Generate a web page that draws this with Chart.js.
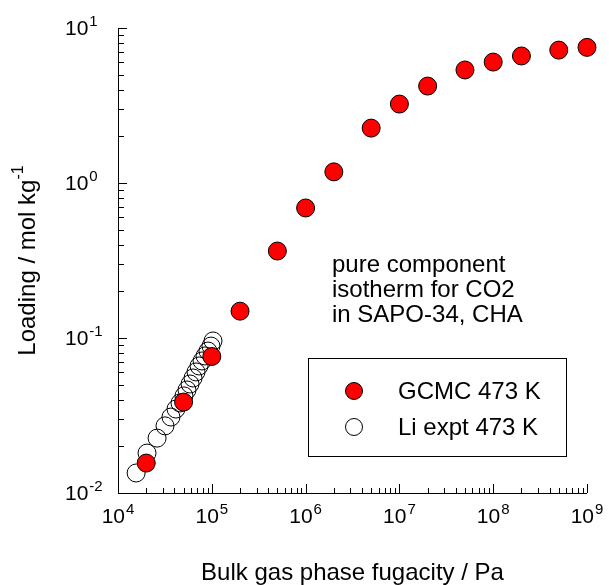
<!DOCTYPE html>
<html>
<head>
<meta charset="utf-8">
<title>CO2 isotherm, SAPO-34</title>
<script src="https://cdn.jsdelivr.net/npm/chart.js@4.4.1/dist/chart.umd.min.js"></script>
<style>
  html, body { margin: 0; padding: 0; background: #fff; }
  #wrap { width: 609px; height: 585px; }
</style>
</head>
<body>
<div id="wrap"><canvas id="iso" width="609" height="585"></canvas></div>
<script>
/* CO2 in SAPO-34 (CHA), 473 K — loading vs bulk fugacity */

// GCMC simulations
const gcmcF = [2e4, 5e4, 1e5, 2e5, 5e5, 1e6, 2e6, 5e6, 1e7, 2e7, 5e7, 1e8, 2e8, 5e8, 1e9];
const gcmcQ = [0.0156, 0.0386, 0.076, 0.149, 0.364, 0.69, 1.18, 2.26, 3.23, 4.22, 5.36, 6.03, 6.6, 7.2, 7.5];

// experimental isotherm (Li)
const exptF = [1.56e4, 2.04e4, 2.61e4, 3.17e4, 3.67e4, 4.15e4, 4.58e4, 5.05e4, 5.44e4,
               5.86e4, 6.31e4, 6.79e4, 7.31e4, 7.87e4, 8.47e4, 9.1e4, 9.8e4, 1.03e5];
const exptQ = [0.01346, 0.0181, 0.0226, 0.0271, 0.0309, 0.0348, 0.0381, 0.0423, 0.0462,
               0.0505, 0.0552, 0.0604, 0.066, 0.0711, 0.0766, 0.0824, 0.0887, 0.0957];

// axis decades (exponents of 10)
const xExp = [4, 5, 6, 7, 8, 9];
const yExp = [-2, -1, 0, 1];

const seriesNames = ['GCMC 473 K', 'Li expt 473 K'];
const noteLines   = ['pure component', 'isotherm for CO2', 'in SAPO-34, CHA'];
const xTitle = 'Bulk gas phase fugacity / Pa';
const yTitle = 'Loading / mol kg';

const FF = '"Liberation Sans", Arial, sans-serif';

const toPts = (xs, ys) => xs.map((x, i) => ({ x, y: ys[i] }));

// "10" with a raised exponent
function powLabel(ctx, exp, x, y, align) {
  ctx.font = '21px ' + FF;
  const wb = ctx.measureText('10').width;
  ctx.font = '15px ' + FF;
  const we = ctx.measureText(String(exp)).width;
  const w  = wb + 1 + we;
  const x0 = align === 'left' ? x : x - w / 2;
  ctx.textAlign = 'left';
  ctx.textBaseline = 'middle';
  ctx.font = '21px ' + FF;
  ctx.fillText('10', x0, y);
  ctx.font = '15px ' + FF;
  ctx.fillText(String(exp), x0 + wb + 1, y - 7);
}

// axes, inward ticks, labels, note and legend
const frame = {
  id: 'frame',
  afterDatasetsDraw(chart) {
    const { ctx, chartArea: a, scales: { x, y } } = chart;
    ctx.save();
    ctx.strokeStyle = '#000';
    ctx.fillStyle = '#000';
    ctx.lineWidth = 1;

    ctx.beginPath();
    ctx.moveTo(a.left + 0.5, a.top);
    ctx.lineTo(a.left + 0.5, a.bottom + 0.5);
    ctx.lineTo(a.right, a.bottom + 0.5);
    ctx.stroke();

    // x ticks
    ctx.beginPath();
    xExp.forEach((e, i) => {
      const px = Math.round(x.getPixelForValue(Math.pow(10, e))) + 0.5;
      ctx.moveTo(px, a.bottom); ctx.lineTo(px, a.bottom - 9);
      if (i < xExp.length - 1) {
        for (let m = 2; m <= 9; m++) {
          const mx = Math.round(x.getPixelForValue(m * Math.pow(10, e))) + 0.5;
          ctx.moveTo(mx, a.bottom); ctx.lineTo(mx, a.bottom - 5);
        }
      }
    });
    // y ticks
    yExp.forEach((e, i) => {
      const py = Math.round(y.getPixelForValue(Math.pow(10, e))) + 0.5;
      ctx.moveTo(a.left, py); ctx.lineTo(a.left + 9, py);
      if (i < yExp.length - 1) {
        for (let m = 2; m <= 9; m++) {
          const my = Math.round(y.getPixelForValue(m * Math.pow(10, e))) + 0.5;
          ctx.moveTo(a.left, my); ctx.lineTo(a.left + 6, my);
        }
      }
    });
    ctx.stroke();

    // tick labels (y labels share a left edge)
    xExp.forEach(e => powLabel(ctx, e, x.getPixelForValue(Math.pow(10, e)), a.bottom + 24, 'center'));
    yExp.forEach(e => powLabel(ctx, e, 65, y.getPixelForValue(Math.pow(10, e)) + 1, 'left'));

    // axis titles
    ctx.textAlign = 'center';
    ctx.textBaseline = 'alphabetic';
    ctx.font = '24px ' + FF;
    ctx.fillText(xTitle, (a.left + a.right) / 2, 580);

    ctx.save();
    ctx.translate(35, (a.top + a.bottom) / 2);
    ctx.rotate(-Math.PI / 2);
    ctx.font = '24px ' + FF;
    const wt = ctx.measureText(yTitle).width;
    ctx.font = '16px ' + FF;
    const ws = ctx.measureText('-1').width;
    const t0 = -(wt + ws) / 2;
    ctx.textAlign = 'left';
    ctx.font = '24px ' + FF;
    ctx.fillText(yTitle, t0, 0);
    ctx.font = '16px ' + FF;
    ctx.fillText('-1', t0 + wt, -12);
    ctx.restore();

    // note
    ctx.textAlign = 'left';
    ctx.font = '24px ' + FF;
    noteLines.forEach((s, i) => ctx.fillText(s, 332, 272 + i * 25));

    // legend
    ctx.strokeRect(308.5, 358.5, 258, 98);
    const keys = [
      { fill: '#ff0000', y: 391 },
      { fill: '#ffffff', y: 427 }
    ];
    keys.forEach((k, i) => {
      ctx.beginPath();
      ctx.arc(354, k.y, 8.5, 0, Math.PI * 2);
      ctx.fillStyle = k.fill;
      ctx.fill();
      ctx.stroke();
      ctx.fillStyle = '#000';
      ctx.font = '24px ' + FF;
      ctx.textBaseline = 'middle';
      ctx.fillText(seriesNames[i], 398, k.y + 1);
    });

    ctx.restore();
  }
};

new Chart(document.getElementById('iso'), {
  type: 'scatter',
  data: {
    datasets: [
      {
        label: seriesNames[0],
        data: toPts(gcmcF, gcmcQ),
        backgroundColor: '#ff0000',
        borderColor: '#000',
        borderWidth: 1,
        pointRadius: 9,
        pointHoverRadius: 9,
        clip: false
      },
      {
        label: seriesNames[1],
        data: toPts(exptF, exptQ),
        backgroundColor: 'rgba(255,255,255,0)',
        borderColor: '#000',
        borderWidth: 1,
        pointRadius: 9,
        pointHoverRadius: 9,
        clip: false
      }
    ]
  },
  options: {
    responsive: false,
    animation: false,
    devicePixelRatio: 1,
    layout: { padding: { left: 118, right: 22, top: 28, bottom: 92 } },
    plugins: { legend: { display: false }, tooltip: { enabled: false } },
    scales: {
      x: {
        type: 'logarithmic', min: 1e4, max: 1e9,
        grid: { display: false }, border: { display: false }, ticks: { display: false },
        afterFit: s => { s.height = 0; }
      },
      y: {
        type: 'logarithmic', min: 0.01, max: 10,
        grid: { display: false }, border: { display: false }, ticks: { display: false },
        afterFit: s => { s.width = 0; }
      }
    }
  },
  plugins: [frame]
});
</script>
</body>
</html>
